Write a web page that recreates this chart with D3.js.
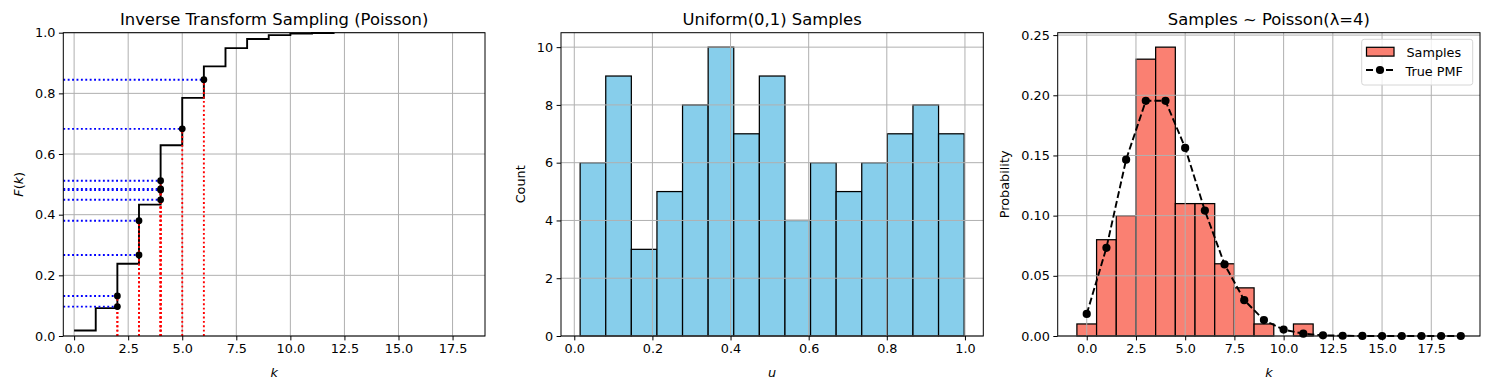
<!DOCTYPE html>
<html>
<head>
<meta charset="utf-8">
<script src="https://cdn.jsdelivr.net/npm/d3@7"></script>
<style>
  html, body { margin: 0; padding: 0; background: #fff; }
  svg { display: block; font-family: "DejaVu Sans", sans-serif; }
  .tick text { fill: #000; }
  .grid line { stroke: #b0b0b0; stroke-width: 1; }
</style>
</head>
<body>
<div id="chart"></div>
<script>
// ---- data ---------------------------------------------------------------
// panel 1: Poisson(4) CDF steps and the samples mapped through it
const cdfK = [0, 1, 2, 3, 4, 5, 6, 7, 8, 9, 10, 11, 12];
const cdfF = [0.018, 0.092, 0.238, 0.433, 0.629, 0.785, 0.889, 0.949, 0.979, 0.992, 0.997, 0.999, 1.0];
const sampleU = [0.845, 0.683, 0.512, 0.485, 0.481, 0.449, 0.380, 0.267, 0.132, 0.097];
const sampleK = [6, 5, 4, 4, 4, 4, 3, 3, 2, 2];

// panel 2: histogram of the uniform draws (15 bins)
const uCounts = [6, 9, 3, 5, 8, 10, 7, 9, 4, 6, 5, 6, 7, 8, 7];
const uMin = 0.015, uMax = 0.998;

// panel 3: empirical probabilities vs true pmf
const histK = [0, 1, 2, 3, 4, 5, 6, 7, 8, 9, 10, 11];
const histP = [0.01, 0.08, 0.10, 0.23, 0.24, 0.11, 0.11, 0.06, 0.04, 0.01, 0.0, 0.01];
const pmfK = [0, 1, 2, 3, 4, 5, 6, 7, 8, 9, 10, 11, 12, 13, 14, 15, 16, 17, 18, 19];
const pmfP = [0.0183, 0.0733, 0.1465, 0.1954, 0.1954, 0.1563, 0.1042, 0.0595, 0.0298, 0.0132,
              0.0053, 0.0019, 0.0006, 0.0002, 0.00005, 0.00001, 0, 0, 0, 0];

const ticksK = [0, 2.5, 5, 7.5, 10, 12.5, 15, 17.5];

// ---- layout ---------------------------------------------------------------
const W = 1489, H = 390;
const axTop = 32.7, axBottom = 336;
const fs = 12.8, titleFs = 16.4;
const svg = d3.select("#chart").append("svg").attr("width", W).attr("height", H);

function panel(opts) {
  const g = svg.append("g");
  const x = d3.scaleLinear().domain(opts.xd).range([opts.left, opts.right]);
  const y = d3.scaleLinear().domain(opts.yd).range([axBottom, axTop]);
  const layers = {
    back: g.append("g"),
    grid: g.append("g").attr("class", "grid"),
    front: g.append("g"),
    axes: g.append("g")
  };
  // grid (sits above the bars, like the reference)
  layers.grid.selectAll("line.gx").data(opts.xt).join("line")
    .attr("class", "gx")
    .attr("x1", d => x(d)).attr("x2", d => x(d)).attr("y1", axTop).attr("y2", axBottom);
  layers.grid.selectAll("line.gy").data(opts.yt).join("line")
    .attr("class", "gy")
    .attr("x1", opts.left).attr("x2", opts.right).attr("y1", d => y(d)).attr("y2", d => y(d));
  // axes
  const ax = layers.axes;
  ax.append("g").attr("transform", `translate(0,${axBottom})`)
    .call(d3.axisBottom(x).tickValues(opts.xt).tickFormat(opts.xf).tickSize(4.4).tickPadding(3.5))
    .call(s => s.select(".domain").remove());
  ax.append("g").attr("transform", `translate(${opts.left},0)`)
    .call(d3.axisLeft(y).tickValues(opts.yt).tickFormat(opts.yf).tickSize(4.4).tickPadding(3.5))
    .call(s => s.select(".domain").remove());
  ax.selectAll(".tick line").attr("stroke", "#000").attr("stroke-width", 1);
  ax.selectAll(".tick text").attr("font-family", "DejaVu Sans").attr("font-size", fs);
  ax.append("rect")
    .attr("x", opts.left).attr("y", axTop)
    .attr("width", opts.right - opts.left).attr("height", axBottom - axTop)
    .attr("fill", "none").attr("stroke", "#000").attr("stroke-width", 1);
  // title
  ax.append("text").attr("x", (opts.left + opts.right) / 2).attr("y", 24.5)
    .attr("text-anchor", "middle").attr("font-size", titleFs).text(opts.title);
  // x label
  ax.append("text").attr("x", (opts.left + opts.right) / 2).attr("y", 376.5)
    .attr("text-anchor", "middle").attr("font-size", fs)
    .attr("font-style", "italic").text(opts.xl);
  // y label
  const yl = ax.append("text")
    .attr("transform", `translate(${opts.ylx},${(axTop + axBottom) / 2}) rotate(-90)`)
    .attr("text-anchor", "middle").attr("font-size", fs);
  opts.yl(yl);
  return { x, y, layers };
}

// ---- panel 1 --------------------------------------------------------------
{
  const p = panel({
    left: 63.3, right: 485, xd: [-0.5, 19], yd: [0, 1],
    xt: ticksK, yt: [0, 0.2, 0.4, 0.6, 0.8, 1.0],
    xf: d3.format(".1f"), yf: d3.format(".1f"),
    title: "Inverse Transform Sampling (Poisson)", xl: "k", ylx: 22.5,
    yl: t => {
      t.append("tspan").attr("font-style", "italic").text("F");
      t.append("tspan").text("(");
      t.append("tspan").attr("font-style", "italic").text("k");
      t.append("tspan").text(")");
    }
  });
  const { x, y } = p;
  const f = p.layers.front;
  const steps = cdfK.map((k, i) => [k, cdfF[i]]);
  f.append("path")
    .attr("d", d3.line().x(d => x(d[0])).y(d => y(d[1])).curve(d3.curveStepAfter)(steps))
    .attr("fill", "none").attr("stroke", "#000").attr("stroke-width", 1.9);
  const samples = sampleU.map((u, i) => ({ u, k: sampleK[i] }));
  f.selectAll("line.h").data(samples).join("line")
    .attr("class", "h")
    .attr("x1", x(-0.5)).attr("x2", d => x(d.k))
    .attr("y1", d => y(d.u)).attr("y2", d => y(d.u))
    .attr("stroke", "#0000ff").attr("stroke-width", 1.9).attr("stroke-dasharray", "1.9,2.5");
  f.selectAll("line.v").data(samples).join("line")
    .attr("class", "v")
    .attr("x1", d => x(d.k)).attr("x2", d => x(d.k))
    .attr("y1", y(0)).attr("y2", d => y(d.u))
    .attr("stroke", "#ff0000").attr("stroke-width", 1.9).attr("stroke-dasharray", "1.9,2.5");
  f.selectAll("circle").data(samples).join("circle")
    .attr("cx", d => x(d.k)).attr("cy", d => y(d.u)).attr("r", 3.4).attr("fill", "#000");
}

// ---- panel 2 --------------------------------------------------------------
{
  const p = panel({
    left: 561, right: 983.3, xd: [-0.034, 1.047], yd: [0, 10.5],
    xt: [0, 0.2, 0.4, 0.6, 0.8, 1.0], yt: [0, 2, 4, 6, 8, 10],
    xf: d3.format(".1f"), yf: d3.format("d"),
    title: "Uniform(0,1) Samples", xl: "u", ylx: 525,
    yl: t => t.text("Count")
  });
  const { x, y } = p;
  const bw = (uMax - uMin) / uCounts.length;
  p.layers.back.selectAll("rect").data(uCounts).join("rect")
    .attr("x", (d, i) => x(uMin + i * bw))
    .attr("width", (d, i) => x(uMin + (i + 1) * bw) - x(uMin + i * bw))
    .attr("y", d => y(d)).attr("height", d => y(0) - y(d))
    .attr("fill", "#87ceeb").attr("stroke", "#000").attr("stroke-width", 1.25);
}

// ---- panel 3 --------------------------------------------------------------
{
  const p = panel({
    left: 1057.7, right: 1480, xd: [-1.475, 19.975], yd: [0, 0.252],
    xt: ticksK, yt: [0, 0.05, 0.10, 0.15, 0.20, 0.25],
    xf: d3.format(".1f"), yf: d3.format(".2f"),
    title: "Samples ~ Poisson(λ=4)", xl: "k", ylx: 1009,
    yl: t => t.text("Probability")
  });
  const { x, y } = p;
  p.layers.back.selectAll("rect").data(histK.map((k, i) => [k, histP[i]]).filter(d => d[1] > 0))
    .join("rect")
    .attr("x", d => x(d[0] - 0.5)).attr("width", d => x(d[0] + 0.5) - x(d[0] - 0.5))
    .attr("y", d => y(d[1])).attr("height", d => y(0) - y(d[1]))
    .attr("fill", "#fa8072").attr("stroke", "#000").attr("stroke-width", 1.25);
  const pmf = pmfK.map((k, i) => [k, pmfP[i]]);
  const f = p.layers.front;
  f.append("path")
    .attr("d", d3.line().x(d => x(d[0])).y(d => y(d[1]))(pmf))
    .attr("fill", "none").attr("stroke", "#000").attr("stroke-width", 1.9)
    .attr("stroke-dasharray", "7,3");
  f.selectAll("circle").data(pmf).join("circle")
    .attr("cx", d => x(d[0])).attr("cy", d => y(d[1])).attr("r", 4.1).attr("fill", "#000");

  // legend
  const lg = p.layers.axes.append("g");
  lg.append("rect").attr("x", 1361.7).attr("y", 39.3).attr("width", 111).attr("height", 45.7)
    .attr("rx", 2.5).attr("fill", "rgba(255,255,255,0.8)").attr("stroke", "#d6d6d6").attr("stroke-width", 1);
  lg.append("rect").attr("x", 1366.5).attr("y", 47.3).attr("width", 27.5).attr("height", 8.8)
    .attr("fill", "#fa8072").attr("stroke", "#000").attr("stroke-width", 1.25);
  lg.append("text").attr("x", 1406.5).attr("y", 56.5).attr("font-size", fs).text("Samples");
  lg.append("line").attr("x1", 1365).attr("x2", 1395).attr("y1", 70).attr("y2", 70)
    .attr("stroke", "#000").attr("stroke-width", 1.9).attr("stroke-dasharray", "7,3")
    .attr("stroke-dashoffset", -1);
  lg.append("circle").attr("cx", 1380).attr("cy", 70).attr("r", 4.1).attr("fill", "#000");
  lg.append("text").attr("x", 1405.5).attr("y", 75.5).attr("font-size", fs).text("True PMF");
}
</script>
</body>
</html>
